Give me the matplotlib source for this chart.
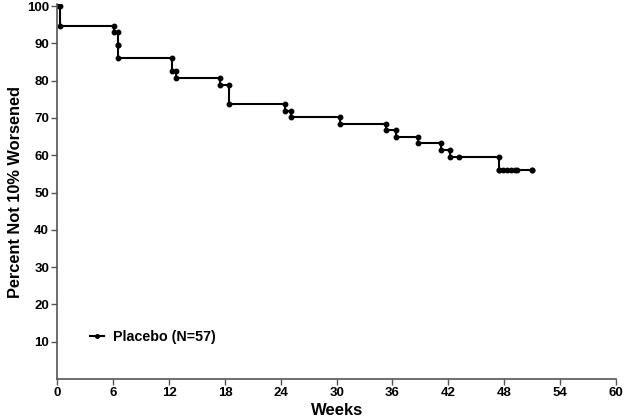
import numpy as np
import matplotlib.pyplot as plt

plt.rcParams['font.family'] = ['Liberation Sans', 'DejaVu Sans']
plt.rcParams['font.weight'] = 'bold'

# event times (weeks) and survival after each event (%)
event_weeks = [0.3, 6.1, 6.5, 6.5, 12.3, 12.7, 17.5, 18.4, 24.4, 25.1,
               30.4, 35.3, 36.4, 38.7, 41.2, 42.2, 47.4]
survival = [94.7, 93.0, 89.5, 86.0, 82.5, 80.7, 78.9, 73.7, 71.9, 70.2,
            68.4, 66.7, 64.9, 63.2, 61.4, 59.6, 56.1]
# censored times (weeks)
censored_weeks = [43.1, 47.45, 47.9, 48.3, 48.7, 49.2, 49.4, 51.0]
last_week = 51.0

x_ticks = np.arange(0, 61, 6)
y_ticks = np.arange(10, 101, 10)


def step_path(times, surv, end):
    xs = [0]
    ys = [100]
    cur = 100
    for t, s in zip(times, surv):
        xs += [t, t]
        ys += [cur, s]
        cur = s
    xs.append(end)
    ys.append(cur)
    return np.array(xs), np.array(ys)


def surv_at(t):
    s = 100
    for et, es in zip(event_weeks, survival):
        if et <= t:
            s = es
    return s


xs, ys = step_path(event_weeks, survival, last_week)
cens_y = [surv_at(t) for t in censored_weeks]

fig, ax = plt.subplots(figsize=(6.24, 4.19), dpi=100)
fig.subplots_adjust(left=0.092, right=0.987, top=0.99, bottom=0.0955)

ax.plot(xs, ys, color='black', linewidth=1.5, marker='o', markersize=3.2,
        label='Placebo (N=57)')
ax.plot(censored_weeks, cens_y, linestyle='none', color='black',
        marker='o', markersize=3.2)

ax.set_xlim(0, 60)
ax.set_ylim(0, 100.5)
ax.set_xticks(x_ticks)
ax.set_yticks(y_ticks)
ax.tick_params(direction='out', length=4, width=1, color='#555555',
               labelsize=9.5, pad=2)
for lab in ax.get_xticklabels() + ax.get_yticklabels():
    lab.set_fontweight('bold')

for side in ['top', 'right']:
    ax.spines[side].set_visible(False)
for side in ['left', 'bottom']:
    ax.spines[side].set_color('#555555')
    ax.spines[side].set_linewidth(1.2)

ax.set_xlabel('Weeks', fontsize=12, fontweight='bold', labelpad=3)
ax.set_ylabel('Percent Not 10% Worsened', fontsize=11.8, fontweight='bold',
              labelpad=3)

leg = ax.legend(loc='lower left', bbox_to_anchor=(0.035, 0.06), frameon=False,
                handlelength=1.0, handletextpad=0.6, markerscale=0.8,
                prop={'size': 10.3, 'weight': 'bold'})

plt.savefig('out.png')
